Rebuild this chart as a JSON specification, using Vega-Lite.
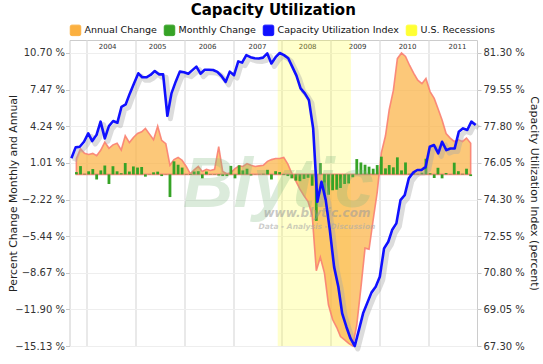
{
  "$schema": "https://vega.github.io/schema/vega-lite/v6.json",
  "width": 407.5,
  "height": 306,
  "autosize": {"type": "none"},
  "padding": {"left": 69.5, "top": 40, "right": 66, "bottom": 18},
  "background": "white",
  "title": {"text": "Capacity Utilization", "font": "DejaVu Sans", "fontSize": 15, "fontWeight": "bold", "color": "#000000", "anchor": "middle", "offset": 6},
  "config": {
    "view": {"stroke": "#cccccc"},
    "axis": {"labelFont": "DejaVu Sans", "titleFont": "DejaVu Sans"}
  },
  "data": {"values": [
    {"date":"2003-10-15","util":76.27,"annual":1.4,"monthly":0.2},
    {"date":"2003-11-15","util":76.79,"annual":2.25,"monthly":0.73},
    {"date":"2003-12-15","util":76.82,"annual":1.85,"monthly":0.05},
    {"date":"2004-01-15","util":77.06,"annual":1.75,"monthly":0.27},
    {"date":"2004-02-15","util":77.46,"annual":1.85,"monthly":0.47},
    {"date":"2004-03-15","util":77.09,"annual":1.65,"monthly":-0.45},
    {"date":"2004-04-15","util":77.38,"annual":2.15,"monthly":0.35},
    {"date":"2004-05-15","util":78.02,"annual":2.85,"monthly":0.78},
    {"date":"2004-06-15","util":77.22,"annual":2.3,"monthly":-0.85},
    {"date":"2004-07-15","util":77.81,"annual":2.6,"monthly":0.72},
    {"date":"2004-08-15","util":78.05,"annual":2.75,"monthly":0.27},
    {"date":"2004-09-15","util":77.97,"annual":2.15,"monthly":0.1},
    {"date":"2004-10-15","util":78.73,"annual":3.4,"monthly":1.0},
    {"date":"2004-11-15","util":78.85,"annual":2.8,"monthly":0.25},
    {"date":"2004-12-15","util":79.37,"annual":3.25,"monthly":0.7},
    {"date":"2005-01-15","util":79.85,"annual":3.6,"monthly":0.6},
    {"date":"2005-02-15","util":80.33,"annual":3.75,"monthly":0.65},
    {"date":"2005-03-15","util":80.14,"annual":4.05,"monthly":-0.2},
    {"date":"2005-04-15","util":80.14,"annual":3.55,"monthly":0.02},
    {"date":"2005-05-15","util":80.25,"annual":3.05,"monthly":0.18},
    {"date":"2005-06-15","util":80.44,"annual":4.25,"monthly":0.24},
    {"date":"2005-07-15","util":80.28,"annual":3.0,"monthly":-0.15},
    {"date":"2005-08-15","util":80.28,"annual":2.7,"monthly":0.02},
    {"date":"2005-09-15","util":78.3,"annual":0.8,"monthly":-2.0},
    {"date":"2005-10-15","util":79.37,"annual":1.3,"monthly":1.15},
    {"date":"2005-11-15","util":79.93,"annual":1.5,"monthly":0.85},
    {"date":"2005-12-15","util":80.41,"annual":1.25,"monthly":0.6},
    {"date":"2006-01-15","util":80.38,"annual":0.7,"monthly":0.03},
    {"date":"2006-02-15","util":80.31,"annual":0.05,"monthly":-0.05},
    {"date":"2006-03-15","util":80.47,"annual":0.4,"monthly":0.25},
    {"date":"2006-04-15","util":80.65,"annual":0.7,"monthly":0.28},
    {"date":"2006-05-15","util":80.31,"annual":0.25,"monthly":-0.35},
    {"date":"2006-06-15","util":80.5,"annual":0.45,"monthly":0.25},
    {"date":"2006-07-15","util":80.5,"annual":0.35,"monthly":0.03},
    {"date":"2006-08-15","util":80.49,"annual":0.45,"monthly":0.03},
    {"date":"2006-09-15","util":80.4,"annual":2.45,"monthly":-0.1},
    {"date":"2006-10-15","util":80.2,"annual":0.25,"monthly":-0.15},
    {"date":"2006-11-15","util":79.92,"annual":0.05,"monthly":-0.15},
    {"date":"2006-12-15","util":80.41,"annual":0.15,"monthly":0.75},
    {"date":"2007-01-15","util":80.24,"annual":0.5,"monthly":-0.35},
    {"date":"2007-02-15","util":80.9,"annual":0.75,"monthly":0.8},
    {"date":"2007-03-15","util":80.84,"annual":0.7,"monthly":0.35},
    {"date":"2007-04-15","util":81.2,"annual":0.95,"monthly":0.5},
    {"date":"2007-05-15","util":81.1,"annual":0.8,"monthly":-0.1},
    {"date":"2007-06-15","util":81.05,"annual":0.7,"monthly":-0.02},
    {"date":"2007-07-15","util":81.04,"annual":0.75,"monthly":0.02},
    {"date":"2007-08-15","util":81.08,"annual":0.8,"monthly":0.05},
    {"date":"2007-09-15","util":81.28,"annual":1.15,"monthly":0.4},
    {"date":"2007-10-15","util":80.8,"annual":1.3,"monthly":-0.45},
    {"date":"2007-11-15","util":81.1,"annual":1.4,"monthly":0.28},
    {"date":"2007-12-15","util":81.3,"annual":1.4,"monthly":0.2},
    {"date":"2008-01-15","util":81.2,"annual":1.5,"monthly":-0.06},
    {"date":"2008-02-15","util":81.05,"annual":0.9,"monthly":-0.15},
    {"date":"2008-03-15","util":80.65,"annual":0.1,"monthly":-0.35},
    {"date":"2008-04-15","util":80.22,"annual":-0.6,"monthly":-0.55},
    {"date":"2008-05-15","util":79.61,"annual":-1.3,"monthly":-0.6},
    {"date":"2008-06-15","util":79.37,"annual":-1.9,"monthly":-0.4},
    {"date":"2008-07-15","util":79.05,"annual":-2.4,"monthly":-0.3},
    {"date":"2008-08-15","util":77.7,"annual":-3.6,"monthly":-1.0},
    {"date":"2008-09-15","util":74.19,"annual":-8.5,"monthly":-4.1},
    {"date":"2008-10-15","util":75.15,"annual":-7.3,"monthly":1.0},
    {"date":"2008-11-15","util":74.27,"annual":-8.7,"monthly":-1.75},
    {"date":"2008-12-15","util":72.84,"annual":-11.5,"monthly":-1.8},
    {"date":"2009-01-15","util":71.08,"annual":-12.8,"monthly":-1.4},
    {"date":"2009-02-15","util":70.13,"annual":-13.5,"monthly":-1.35},
    {"date":"2009-03-15","util":68.86,"annual":-14.3,"monthly":-1.2},
    {"date":"2009-04-15","util":68.21,"annual":-14.6,"monthly":-0.85},
    {"date":"2009-05-15","util":67.66,"annual":-14.9,"monthly":-0.8},
    {"date":"2009-06-15","util":67.3,"annual":-15.13,"monthly":-0.25},
    {"date":"2009-07-15","util":68.06,"annual":-13.3,"monthly":1.35},
    {"date":"2009-08-15","util":68.86,"annual":-10.0,"monthly":1.05},
    {"date":"2009-09-15","util":69.37,"annual":-6.5,"monthly":0.85},
    {"date":"2009-10-15","util":69.85,"annual":-6.6,"monthly":0.68},
    {"date":"2009-11-15","util":70.13,"annual":-4.0,"monthly":0.5},
    {"date":"2009-12-15","util":70.61,"annual":-1.6,"monthly":0.82},
    {"date":"2010-01-15","util":71.96,"annual":1.9,"monthly":1.56},
    {"date":"2010-02-15","util":72.28,"annual":3.4,"monthly":0.53},
    {"date":"2010-03-15","util":72.84,"annual":5.7,"monthly":0.82},
    {"date":"2010-04-15","util":73.16,"annual":7.4,"monthly":0.62},
    {"date":"2010-05-15","util":74.27,"annual":10.2,"monthly":1.5},
    {"date":"2010-06-15","util":74.51,"annual":10.7,"monthly":0.35},
    {"date":"2010-07-15","util":75.31,"annual":10.4,"monthly":1.05},
    {"date":"2010-08-15","util":75.58,"annual":9.6,"monthly":0.05},
    {"date":"2010-09-15","util":75.71,"annual":8.9,"monthly":0.1},
    {"date":"2010-10-15","util":75.71,"annual":8.3,"monthly":0.05},
    {"date":"2010-11-15","util":75.86,"annual":8.0,"monthly":0.15},
    {"date":"2010-12-15","util":76.82,"annual":8.45,"monthly":1.38},
    {"date":"2011-01-15","util":76.9,"annual":7.3,"monthly":0.1},
    {"date":"2011-02-15","util":76.5,"annual":6.7,"monthly":-0.32},
    {"date":"2011-03-15","util":77.06,"annual":5.8,"monthly":0.58},
    {"date":"2011-04-15","util":76.66,"annual":4.8,"monthly":-0.35},
    {"date":"2011-05-15","util":76.74,"annual":3.6,"monthly":0.12},
    {"date":"2011-06-15","util":76.74,"annual":3.2,"monthly":0.02},
    {"date":"2011-07-15","util":77.54,"annual":2.9,"monthly":1.03},
    {"date":"2011-08-15","util":77.7,"annual":3.05,"monthly":0.28},
    {"date":"2011-09-15","util":77.62,"annual":2.9,"monthly":0.05},
    {"date":"2011-10-15","util":78.02,"annual":3.2,"monthly":0.5},
    {"date":"2011-11-15","util":77.86,"annual":2.75,"monthly":-0.15}
  ]},
  "layer": [
    {
      "encoding": {
        "x": {"field": "date", "type": "temporal",
          "scale": {"domain": [{"year": 2003, "month": 10, "date": 1, "utc": true}, {"year": 2011, "month": 11, "date": 25, "utc": true}]},
          "axis": {"orient": "top", "title": null, "labels": false, "ticks": false, "domain": false, "grid": true, "gridColor": "#e2e2e2", "gridWidth": 1.5,
            "values": [{"year":2004,"month":1,"date":1,"utc":true},{"year":2005,"month":1,"date":1,"utc":true},{"year":2006,"month":1,"date":1,"utc":true},{"year":2007,"month":1,"date":1,"utc":true},{"year":2008,"month":1,"date":1,"utc":true},{"year":2009,"month":1,"date":1,"utc":true},{"year":2010,"month":1,"date":1,"utc":true},{"year":2011,"month":1,"date":1,"utc":true}]}
        },
        "y": {"type": "quantitative",
          "scale": {"domain": [-15.13, 11.846], "nice": false, "zero": false},
          "axis": {"orient": "left", "title": "Percent Change Monthly and Annual", "values": [10.70, 7.47, 4.24, 1.01, -2.22, -5.44, -8.67, -11.90, -15.13],
            "labelExpr": "format(datum.value, '.2f') + ' %'", "labelOverlap": false, "grid": true, "gridColor": "#eeeeee", "domain": false, "tickSize": 4, "tickColor": "#c8c8c8",
            "labelPadding": 1, "labelFontSize": 10, "labelColor": "#333333", "titleFontSize": 10.8, "titleFontWeight": "normal", "titleColor": "#222222", "titlePadding": -4}
        }
      },
      "layer": [
        {
          "data": {"values": [{"start": "2007-12-01", "end": "2009-06-01", "series": "U.S. Recessions"}]},
          "mark": {"type": "rect", "opacity": 0.25},
          "encoding": {
            "x": {"field": "start", "type": "temporal"},
            "x2": {"field": "end"},
            "y": null,
            "color": {"field": "series", "type": "nominal",
              "scale": {"domain": ["Annual Change", "Monthly Change", "Capacity Utilization Index", "U.S. Recessions"], "range": ["#fbb040", "#36a326", "#1010ff", "#ffff33"]},
              "legend": {"orient": "top", "direction": "horizontal", "title": null, "offset": 2, "labelFont": "DejaVu Sans", "labelFontSize": 9.5, "labelColor": "#111111",
                "symbolSize": 110, "labelOffset": 3, "columnPadding": 4, "symbolOpacity": 1, "symbolStrokeWidth": 1,
                "symbolType": "M-0.7,-1L0.7,-1Q1,-1,1,-0.7L1,0.7Q1,1,0.7,1L-0.7,1Q-1,1,-1,0.7L-1,-0.7Q-1,-1,-0.7,-1Z",
                "encode": {"symbols": {"update": {
                  "fill": {"scale": "color", "field": "value"},
                  "fillOpacity": {"value": 1},
                  "opacity": {"value": 1},
                  "strokeWidth": {"value": 1},
                  "stroke": {"signal": "datum.value == 'Annual Change' ? '#f47a6c' : datum.value == 'Monthly Change' ? '#257a1a' : datum.value == 'Capacity Utilization Index' ? '#2020b0' : '#e0e040'"}
                }}}
              }
            }
          }
        },
        {
          "mark": {"type": "area", "fillOpacity": 0.7, "stroke": "#fa7f72", "strokeWidth": 1.6, "strokeOpacity": 0.9},
          "encoding": {
            "y": {"field": "annual", "type": "quantitative"},
            "y2": {"datum": 0},
            "color": {"datum": "Annual Change", "legend": null}
          }
        },
        {
          "mark": {"type": "bar", "width": 2.8},
          "encoding": {
            "y": {"field": "monthly", "type": "quantitative"},
            "y2": {"datum": 0},
            "color": {"datum": "Monthly Change", "legend": null}
          }
        }
      ]
    },
    {
      "encoding": {
        "x": {"type": "temporal",
          "scale": {"domain": [{"year": 2003, "month": 10, "date": 1, "utc": true}, {"year": 2011, "month": 11, "date": 25, "utc": true}]},
          "axis": null},
        "y": {"type": "quantitative", "scale": {"domain": [-15.13, 11.846], "nice": false, "zero": false}, "axis": null}
      },
      "layer": [
        {
          "data": {"values": [{"t": "Blytic"}]},
          "mark": {"type": "text", "font": "Liberation Sans", "fontSize": 70, "fontStyle": "italic", "fontWeight": "bold", "align": "center", "baseline": "alphabetic", "fill": "#7cb87c", "fillOpacity": 0.28},
          "encoding": {
            "x": {"datum": {"year": 2007, "month": 12, "date": 5}, "type": "temporal"},
            "y": {"datum": -2.88, "type": "quantitative"},
            "text": {"field": "t", "type": "nominal"}
          }
        },
        {
          "data": {"values": [{"t": "www.blytic.com"}]},
          "mark": {"type": "text", "font": "DejaVu Sans", "fontSize": 12, "fontStyle": "italic", "fontWeight": "bold", "align": "center", "baseline": "alphabetic", "fill": "#999999", "fillOpacity": 0.55},
          "encoding": {
            "x": {"datum": {"year": 2008, "month": 9, "date": 12}, "type": "temporal"},
            "y": {"datum": -3.8, "type": "quantitative"},
            "text": {"field": "t", "type": "nominal"}
          }
        },
        {
          "data": {"values": [{"t": "Data - Analysis - Discussion"}]},
          "mark": {"type": "text", "font": "DejaVu Sans", "fontSize": 7.5, "fontStyle": "italic", "fontWeight": "bold", "align": "center", "baseline": "alphabetic", "fill": "#aaaaaa", "fillOpacity": 0.6},
          "encoding": {
            "x": {"datum": {"year": 2008, "month": 9, "date": 12}, "type": "temporal"},
            "y": {"datum": -4.85, "type": "quantitative"},
            "text": {"field": "t", "type": "nominal"}
          }
        }
      ]
    },
    {
      "encoding": {
        "x": {"field": "date", "type": "temporal",
          "scale": {"domain": [{"year": 2003, "month": 10, "date": 1, "utc": true}, {"year": 2011, "month": 11, "date": 25, "utc": true}]},
          "axis": {"orient": "top", "title": null, "ticks": false, "domain": false, "grid": false, "format": "%Y", "labelAngle": 0,
            "labelPadding": -6.5, "labelBaseline": "middle", "labelFontSize": 7, "labelColor": "#333333",
            "values": [{"year":2004,"month":7,"date":2,"utc":true},{"year":2005,"month":7,"date":2,"utc":true},{"year":2006,"month":7,"date":2,"utc":true},{"year":2007,"month":7,"date":2,"utc":true},{"year":2008,"month":7,"date":2,"utc":true},{"year":2009,"month":7,"date":2,"utc":true},{"year":2010,"month":7,"date":2,"utc":true},{"year":2011,"month":7,"date":2,"utc":true}]}
        },
        "y": {"field": "util", "type": "quantitative",
          "scale": {"domain": [67.30, 81.921], "nice": false, "zero": false},
          "axis": {"orient": "right", "title": "Capacity Utilization Index (percent)", "values": [81.30, 79.55, 77.80, 76.05, 74.30, 72.55, 70.80, 69.05, 67.30],
            "labelExpr": "format(datum.value, '.2f') + ' %'", "labelOverlap": false, "grid": false, "domain": false, "tickSize": 4, "tickColor": "#c8c8c8",
            "labelPadding": 2, "labelFontSize": 10, "labelColor": "#333333", "titleFontSize": 11, "titleFontWeight": "normal", "titleColor": "#222222", "titlePadding": 4}
        }
      },
      "layer": [
        {
          "mark": {"type": "line", "color": "#a8a8a8", "opacity": 0.4, "strokeWidth": 5, "xOffset": 3, "yOffset": 3, "strokeJoin": "round"}
        },
        {
          "mark": {"type": "line", "strokeWidth": 2.6, "strokeJoin": "round"},
          "encoding": {
            "color": {"datum": "Capacity Utilization Index", "legend": null}
          }
        }
      ]
    }
  ],
  "resolve": {"scale": {"x": "independent", "y": "independent"}}
}
